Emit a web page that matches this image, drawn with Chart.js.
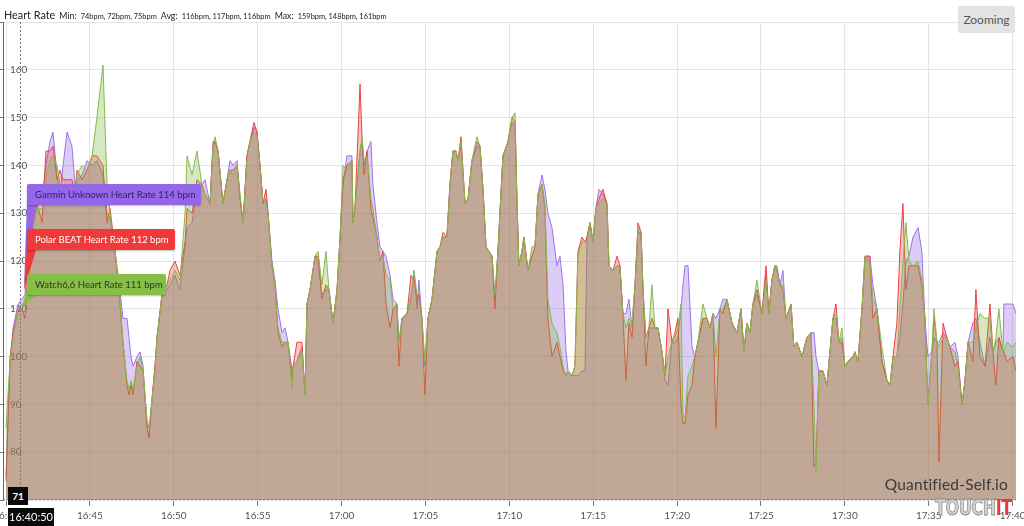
<!DOCTYPE html>
<html>
<head>
<meta charset="utf-8">
<script src="https://cdn.jsdelivr.net/npm/chart.js@4.4.0/dist/chart.umd.min.js"></script>
<style>
  html, body { margin: 0; padding: 0; background: #fff; }
  body { width: 1024px; height: 526px; overflow: hidden; position: relative; font-family: Lato, "Open Sans", sans-serif; }
  #wrap { position: absolute; left: 0; top: 0; width: 1024px; height: 526px; }
  .abs { position: absolute; white-space: nowrap; }
  #title { left: 4px; top: 5px; color: #222; line-height: 15px; }
  #title .big { font-size: 10.8px; }
  #title .mid { font-size: 8.8px; }
  #title .sm { font-size: 7.4px; }
  #zoomBtn { left: 958px; top: 6px; width: 57px; height: 27px; line-height: 27px; text-align: center;
    background: #e3e3e3; border-radius: 2px; font-size: 12px; color: #555; }
  .bal { height: 21px; line-height: 21px; font-size: 9.5px; padding-left: 8px; box-sizing: border-box;
    border-radius: 2px; box-shadow: 0 1px 2px rgba(0,0,0,0.25); }
  .blk { background: #0a0a0a; color: #fff; text-align: center; }
  #mark { right: 16px; top: 475px; font-size: 15.5px; color: #3a3a3a; letter-spacing: 0.2px; }
  #logo { left: 935px; top: 496px; font-family: "DejaVu Sans Condensed", "Liberation Sans Narrow", sans-serif;
    font-weight: bold; font-size: 21px; letter-spacing: -0.5px; transform: scaleX(0.85); transform-origin: left top; }
  #logo .t { color: #d4d4d4; -webkit-text-stroke: 0.8px #8a8a8a; }
  #logo .i { color: #e23b3b; }
</style>
</head>
<body>
<div id="wrap"><canvas id="chart"></canvas></div>

<div id="title" class="abs"><span class="big">Heart Rate</span> <span class="mid">Min:</span> <span class="sm">74bpm, 72bpm, 75bpm</span> <span class="mid">Avg:</span> <span class="sm">116bpm, 117bpm, 116bpm</span> <span class="mid">Max:</span> <span class="sm">159bpm, 148bpm, 161bpm</span></div>
<div id="zoomBtn" class="abs">Zooming</div>

<svg class="abs" style="left:0;top:0" width="1024" height="526">
  <polygon points="27,200 36,205 24,288" fill="#9466e8"/>
  <polygon points="27,246 36,250 24,290" fill="#f03a3a"/>
  <polygon points="27,290 36,296 22,306" fill="#86be48"/>
</svg>
<div class="abs bal" style="left:27px;top:184px;width:174px;background:#9466e8;color:#2e1f63">Garmin Unknown Heart Rate 114 bpm</div>
<div class="abs bal" style="left:27px;top:229px;width:148px;background:#f03a3a;color:#fff">Polar BEAT Heart Rate 112 bpm</div>
<div class="abs bal" style="left:27px;top:274px;width:139px;background:#86be48;color:#2c3a1e">Watch6,6 Heart Rate 111 bpm</div>

<div id="mark" class="abs">Quantified-Self.io</div>
<div id="logo" class="abs"><span class="t">TOUCH</span><span class="i">IT</span></div>
<div class="abs blk" style="left:8px;top:487px;width:20px;height:18px;line-height:18px;font-size:10px;font-weight:bold">71</div>
<div class="abs blk" style="left:8px;top:508px;width:46px;height:18px;line-height:18px;font-size:11px">16:40:50</div>

<script>
// minutes after 16:40:00
const minutes = [
  0, 0.24, 0.42, 0.72, 0.95, 1.13, 1.31, 1.61, 1.85, 2.15,
  2.38, 2.62, 2.80, 3.04, 3.22, 3.40, 3.64, 3.93, 4.11, 4.23,
  4.53, 4.83, 5.13, 5.42, 5.78, 6.02, 6.20, 6.50, 6.79, 6.97,
  7.21, 7.33, 7.45, 7.57, 7.81, 7.99, 8.17, 8.40, 8.52, 8.70,
  8.88, 9.00, 9.30, 9.60, 9.77, 10.07, 10.37, 10.67, 10.79, 11.09,
  11.38, 11.68, 11.86, 12.16, 12.34, 12.46, 12.64, 12.93, 13.17, 13.35,
  13.53, 13.77, 13.95, 14.13, 14.36, 14.54, 14.78, 14.96, 15.14, 15.32,
  15.50, 15.62, 15.85, 16.03, 16.21, 16.45, 16.63, 16.81, 17.05, 17.11,
  17.34, 17.64, 17.82, 17.94, 18.12, 18.42, 18.60, 18.83, 19.07, 19.25,
  19.49, 19.73, 19.91, 20.09, 20.32, 20.62, 20.68, 20.80, 21.10, 21.22,
  21.34, 21.52, 21.75, 21.87, 22.11, 22.29, 22.47, 22.65, 22.89, 23.07,
  23.30, 23.42, 23.60, 23.90, 24.14, 24.32, 24.50, 24.61, 24.79, 24.97,
  25.15, 25.39, 25.69, 25.87, 26.05, 26.28, 26.46, 26.64, 26.82, 26.94,
  27.12, 27.36, 27.54, 27.77, 28.07, 28.25, 28.43, 28.61, 28.79, 28.97,
  29.14, 29.32, 29.62, 29.92, 30.16, 30.34, 30.46, 30.57, 30.75, 30.87,
  31.11, 31.35, 31.53, 31.71, 31.95, 32.12, 32.30, 32.54, 32.84, 33.02,
  33.20, 33.38, 33.50, 33.73, 33.91, 34.09, 34.33, 34.51, 34.63, 34.81,
  34.99, 35.16, 35.34, 35.58, 35.82, 35.94, 36.18, 36.42, 36.59, 36.77,
  36.95, 37.13, 37.31, 37.49, 37.67, 37.85, 37.97, 38.14, 38.32, 38.50,
  38.68, 38.86, 39.10, 39.28, 39.46, 39.69, 39.87, 40.05, 40.23, 40.35,
  40.47, 40.65, 40.89, 41.06, 41.24, 41.54, 41.78, 41.96, 42.14, 42.32,
  42.55, 42.73, 42.97, 43.27, 43.57, 43.81, 43.98, 44.16, 44.34, 44.52,
  44.76, 45.06, 45.30, 45.47, 45.65, 45.83, 45.95, 46.13, 46.31, 46.49,
  46.79, 46.96, 47.14, 47.44, 47.74, 47.98, 48.16, 48.28, 48.45, 48.69,
  48.93, 49.11, 49.29, 49.47, 49.65, 49.83, 50.00, 50.18, 50.48, 50.60,
  50.78, 51.02, 51.20, 51.49, 51.67, 51.91, 52.21, 52.51, 52.69, 52.87,
  53.10, 53.28, 53.46, 53.64, 53.82, 54.06, 54.36, 54.59, 54.77, 54.95,
  55.19, 55.31, 55.49, 55.61, 55.85, 56.08, 56.26, 56.56, 56.74, 56.98,
  57.16, 57.34, 57.63, 57.81, 58.05, 58.35, 58.65, 58.83, 59.00, 59.18,
  59.42, 59.48, 59.66, 60.02, 60.20
];

// Polar BEAT
const polar = [
  74, 100, 105, 110, 110, 108, 118, 128, 132, 128,
  143, 143, 144, 137, 139, 137, 137, 137, 134, 139,
  137, 139, 142, 142, 140, 128, 131, 122, 111, 103,
  94, 92, 94, 92, 99, 98, 97, 86, 83, 91,
  98, 104, 113, 115, 118, 120, 117, 124, 131, 130,
  137, 136, 134, 132, 145, 145, 143, 132, 137, 139,
  139, 140, 133, 128, 142, 145, 149, 147, 140, 132,
  135, 130, 119, 115, 105, 102, 103, 103, 95, 98,
  103, 103, 92, 111, 114, 121, 121, 112, 115, 114,
  107, 114, 125, 137, 140, 141, 128, 131, 157, 146,
  138, 143, 131, 129, 125, 120, 122, 111, 106, 110,
  111, 98, 108, 109, 117, 116, 112, 113, 108, 92,
  108, 112, 122, 123, 126, 125, 136, 143, 143, 141,
  146, 132, 133, 141, 144, 144, 135, 123, 122, 121,
  110, 122, 142, 145, 150, 149, 132, 119, 122, 125,
  118, 121, 123, 134, 136, 131, 108, 100, 103, 100,
  97, 96, 97, 96, 98, 122, 125, 124, 125, 128,
  124, 131, 133, 135, 132, 119, 118, 121, 119, 109,
  95, 107, 104, 115, 128, 126, 114, 98, 106, 108,
  106, 106, 101, 96, 110, 103, 105, 108, 90, 86,
  86, 92, 94, 100, 103, 108, 108, 106, 109, 85,
  110, 109, 112, 107, 105, 110, 101, 107, 105, 111,
  114, 109, 119, 109, 116, 119, 118, 115, 114, 108,
  111, 102, 103, 100, 104, 105, 77, 78, 97, 97,
  94, 101, 108, 111, 103, 103, 98, 99, 100, 101,
  99, 110, 121, 121, 108, 110, 99, 95, 94, 100,
  107, 122, 132, 114, 119, 119, 119, 115, 108, 90,
  101, 108, 103, 78, 107, 104, 102, 98, 99, 90,
  95, 103, 99, 114, 100, 98, 111, 101, 94, 104,
  101, 101, 99, 100, 97
];

// Garmin Unknown
const garmin = [
  75, 98, 106, 111, 112, 113, 122, 130, 132, 133,
  140, 145, 147, 138, 134, 140, 147, 144, 136, 137,
  138, 141, 140, 141, 138, 130, 129, 122, 114, 108,
  108, 104, 100, 98, 100, 101, 98, 85, 83, 91,
  98, 104, 113, 114, 115, 117, 114, 123, 127, 128,
  135, 136, 137, 132, 144, 145, 143, 132, 137, 141,
  140, 141, 133, 128, 142, 145, 148, 147, 140, 132,
  133, 130, 120, 116, 110, 105, 106, 103, 97, 98,
  99, 102, 92, 111, 114, 121, 120, 113, 114, 114,
  107, 114, 125, 136, 142, 142, 128, 131, 143, 145,
  140, 143, 145, 136, 128, 123, 122, 121, 117, 112,
  111, 103, 108, 109, 112, 118, 110, 116, 108, 98,
  108, 112, 122, 123, 125, 125, 136, 143, 143, 141,
  144, 132, 133, 141, 145, 144, 135, 123, 122, 121,
  112, 122, 142, 145, 149, 148, 132, 119, 122, 125,
  118, 121, 123, 134, 138, 135, 130, 127, 119, 121,
  115, 101, 97, 96, 96, 96, 97, 97, 125, 128,
  124, 131, 135, 134, 132, 119, 118, 119, 119, 109,
  109, 112, 106, 115, 126, 126, 114, 104, 106, 106,
  106, 106, 101, 95, 94, 103, 103, 104, 110, 115,
  119, 119, 102, 100, 103, 108, 108, 106, 109, 108,
  110, 112, 112, 107, 105, 110, 101, 107, 105, 111,
  113, 109, 117, 109, 116, 119, 119, 115, 118, 108,
  111, 102, 103, 100, 104, 105, 105, 100, 97, 97,
  94, 101, 108, 108, 103, 104, 98, 99, 100, 101,
  99, 110, 121, 121, 115, 110, 99, 95, 94, 100,
  100, 104, 111, 120, 121, 125, 127, 122, 108, 100,
  101, 104, 103, 103, 105, 104, 102, 103, 100, 90,
  95, 103, 107, 108, 103, 98, 104, 101, 103, 104,
  101, 111, 111, 111, 109
];

// Watch6,6
const watch = [
  85, 99, 104, 110, 111, 111, 116, 126, 131, 131,
  138, 141, 142, 140, 136, 136, 136, 136, 134, 138,
  140, 139, 142, 150, 161, 136, 130, 122, 112, 103,
  95, 93, 95, 93, 98, 100, 97, 87, 85, 91,
  97, 104, 113, 115, 116, 118, 116, 130, 142, 138,
  143, 136, 134, 132, 144, 146, 143, 132, 137, 139,
  138, 140, 134, 128, 141, 145, 147, 146, 140, 132,
  132, 130, 119, 115, 106, 103, 103, 103, 93, 98,
  99, 101, 92, 111, 114, 121, 122, 115, 122, 114,
  107, 114, 125, 140, 139, 141, 128, 131, 143, 146,
  141, 142, 133, 131, 125, 120, 121, 117, 116, 110,
  111, 103, 108, 109, 113, 118, 113, 112, 108, 99,
  108, 112, 122, 123, 125, 125, 136, 143, 143, 141,
  145, 132, 133, 141, 146, 144, 135, 123, 122, 121,
  113, 122, 142, 145, 150, 151, 132, 119, 122, 125,
  118, 123, 123, 134, 136, 132, 112, 107, 105, 102,
  98, 96, 97, 96, 98, 121, 124, 124, 124, 128,
  124, 131, 132, 133, 132, 119, 118, 119, 119, 109,
  106, 108, 107, 115, 127, 126, 114, 104, 106, 115,
  106, 106, 101, 96, 100, 103, 104, 106, 111, 88,
  87, 96, 98, 100, 103, 111, 108, 106, 109, 100,
  110, 110, 112, 107, 105, 110, 101, 107, 105, 111,
  116, 109, 116, 109, 116, 119, 118, 115, 115, 108,
  111, 102, 103, 100, 104, 105, 90, 76, 97, 97,
  94, 101, 108, 109, 103, 106, 98, 99, 100, 101,
  99, 110, 121, 120, 112, 110, 102, 95, 94, 100,
  100, 110, 120, 128, 120, 119, 120, 116, 108, 90,
  101, 110, 103, 102, 104, 104, 102, 101, 98, 90,
  95, 103, 103, 106, 109, 108, 108, 101, 104, 110,
  101, 101, 103, 102, 103
];

const xTickValues = [0, 5, 10, 15, 20, 25, 30, 35, 40, 45, 50, 55, 60];
const xTickLabels = ["16:40", "16:45", "16:50", "16:55", "17:00", "17:05", "17:10",
  "17:15", "17:20", "17:25", "17:30", "17:35", "17:40"];
const yTickValues = [70, 80, 90, 100, 110, 120, 130, 140, 150, 160, 170];
const cursorMinute = 50 / 60; // 16:40:50

const toPoints = (vals) => minutes.map((m, i) => ({ x: m, y: vals[i] }));

function series(label, values, line, fillColor) {
  return {
    label,
    data: toPoints(values),
    borderColor: line,
    backgroundColor: fillColor,
    borderWidth: 1,
    pointRadius: 0,
    tension: 0,
    fill: "start",
  };
}

// dotted crosshair at the hovered time
const crosshair = {
  id: "crosshair",
  afterDatasetsDraw(chart) {
    const { ctx, chartArea, scales } = chart;
    const x = Math.round(scales.x.getPixelForValue(cursorMinute)) + 0.5;
    const y = chartArea.bottom - 0.5;
    ctx.save();
    ctx.strokeStyle = "#777";
    ctx.lineWidth = 1;
    ctx.setLineDash([2, 2]);
    ctx.beginPath();
    ctx.moveTo(x, chartArea.top);
    ctx.lineTo(x, chartArea.bottom);
    ctx.moveTo(chartArea.left, y);
    ctx.lineTo(chartArea.right, y);
    ctx.stroke();
    ctx.restore();
  },
};

Chart.defaults.font.family = 'Lato, "Open Sans", sans-serif';
Chart.defaults.font.size = 10;
Chart.defaults.color = "#555";

// dataset 0 is drawn last (on top): purple, then red, then green
new Chart(document.getElementById("chart"), {
  type: "line",
  data: {
    datasets: [
      series("Watch6,6 Heart Rate", watch, "#86b84c", "rgba(120,180,50,0.3)"),
      series("Polar BEAT Heart Rate", polar, "#ee4040", "rgba(235,60,60,0.3)"),
      series("Garmin Unknown Heart Rate", garmin, "#9d72e6", "rgba(140,90,230,0.3)"),
    ],
  },
  options: {
    responsive: true,
    maintainAspectRatio: false,
    animation: false,
    layout: { padding: { top: 22, right: 8, left: 0, bottom: 0 } },
    plugins: { legend: { display: false }, tooltip: { enabled: false } },
    scales: {
      x: {
        type: "linear",
        min: -0.18,
        max: 60.2,
        afterBuildTicks: (s) => { s.ticks = xTickValues.map((v) => ({ value: v })); },
        afterFit: (s) => { s.height = 26; s.paddingLeft = 0; s.paddingRight = 0; },
        ticks: {
          autoSkip: false,
          maxRotation: 0,
          padding: 4,
          color: "#555",
          callback: (v) => xTickLabels[xTickValues.indexOf(v)],
        },
        grid: { color: "#e4e4e4", tickLength: 6, tickColor: "#777" },
        border: { display: false },
      },
      y: {
        min: 70,
        max: 170,
        afterBuildTicks: (s) => { s.ticks = yTickValues.map((v) => ({ value: v })); },
        afterFit: (s) => { s.width = 3; },
        ticks: {
          mirror: true,
          padding: 7,
          color: "#555",
          callback: (v) => (v === 70 || v === 170 ? "" : String(v)),
        },
        grid: { color: "#e4e4e4", tickLength: 3, tickColor: "#777" },
        border: { color: "#666" },
      },
    },
  },
  plugins: [crosshair],
});
</script>
</body>
</html>
